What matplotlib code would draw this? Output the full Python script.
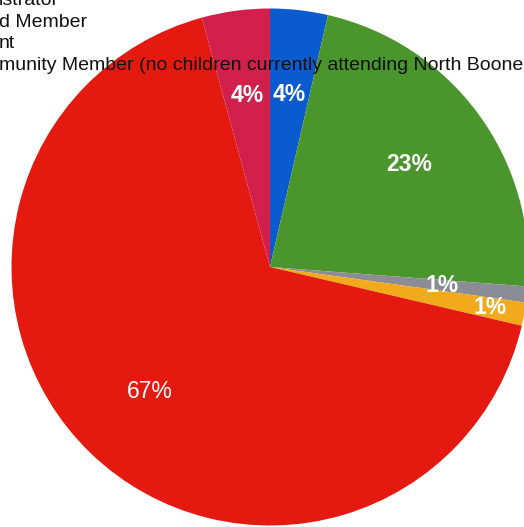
import matplotlib
matplotlib.use("Agg")
import matplotlib.pyplot as plt
import numpy as np

plt.rcParams['font.family'] = ['Liberation Sans', 'DejaVu Sans']

# Data (clockwise from 12 o'clock)
categories = ["Administrator", "Teacher/Staff", "Board Member", "Parent", "Student", "Community Member"]
values = [3.6, 22.6, 1.0, 1.45, 67.1, 4.25]
colors = ["#0b5bd0", "#4a962c", "#8c8c96", "#f0aa1c", "#e41a10", "#d2204c"]
legend_lines = ["istrator", "d Member", "nt",
                "munity Member (no children currently attending North Boone"]

W, H = 524, 527
fig = plt.figure(figsize=(W / 100, H / 100), dpi=100)
ax = fig.add_axes([0, 0, 1, 1])

cx, cy, R = 270, 267, 258.5
wedges, texts, autotexts = ax.pie(
    values, colors=colors, startangle=-90, counterclock=True,
    center=(cx, cy), radius=R, autopct="%.0f%%", pctdistance=0.67,
    textprops=dict(color="white", fontsize=16.5),
    wedgeprops=dict(linewidth=0), frame=True)
ax.set_xlim(0, W)
ax.set_ylim(H, 0)
ax.axis("off")

# push the small orange label outward
t = autotexts[3]
x, y = t.get_position()
t.set_position((cx + (x - cx) * 1.29, cy + (y - cy) * 1.29))
for i in (0, 1, 2, 3, 5):
    autotexts[i].set_fontweight("bold")

for i, line in enumerate(legend_lines):
    ax.text(-1, 5 + 21.7 * i, line, fontsize=14, color="#111111",
            ha="left", va="baseline")

fig.savefig("out.png", dpi=100)
